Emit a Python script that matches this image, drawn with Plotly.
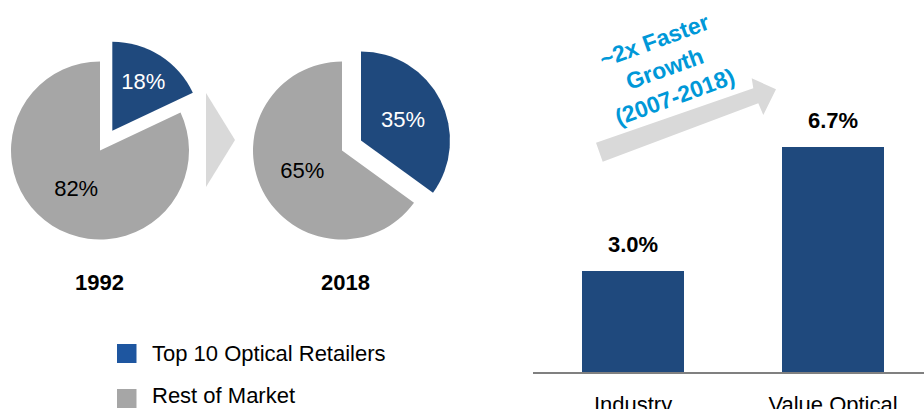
import plotly.graph_objects as go

W, H = 924, 409

# ---- data ----
years = ["1992", "2018"]
segment_labels = ["Top 10 Optical Retailers", "Rest of Market"]
share_top10 = [18, 35]
share_rest = [82, 65]
bar_categories = ["Industry", "Value Optical"]
bar_values = [3.0, 6.7]
growth_note = "~2x Faster<br>Growth<br>(2007-2018)"

# ---- styles ----
BLUE = "#1F497D"
LEG_BLUE = "#1E56A0"
GREY = "#A6A6A6"
LIGHT = "#D9D9D9"
CYAN = "#0098D8"
CLEAR = "rgba(0,0,0,0)"
FONT = "Liberation Sans Narrow, Arial Narrow, Liberation Sans, Arial, sans-serif"
FS = 22


def fx(x):
    return x / W


def fy(y):
    return 1 - y / H


def dom(cx, cy, r):
    return dict(x=[fx(cx - r), fx(cx + r)], y=[fy(cy + r), fy(cy - r)])


pie_centers = [(100, 150.5), (342, 150.5)]
pie_r = 89
blue_offsets = [(12.3, -19.8), (19, -10)]

fig = go.Figure()

for i in range(len(years)):
    cx, cy = pie_centers[i]
    ox, oy = blue_offsets[i]
    vals = [share_top10[i], share_rest[i]]
    # rest-of-market part
    fig.add_trace(go.Pie(
        labels=segment_labels, values=vals, sort=False, direction="clockwise",
        rotation=0, domain=dom(cx, cy, pie_r),
        marker=dict(colors=[CLEAR, GREY], line=dict(width=0)),
        text=["", f"{share_rest[i]}%"], textinfo="text", textposition="inside",
        insidetextorientation="horizontal",
        textfont=dict(family=FONT, size=FS, color="black"),
        showlegend=False, hoverinfo="skip",
    ))
    # exploded top-10 slice
    fig.add_trace(go.Pie(
        labels=segment_labels, values=vals, sort=False, direction="clockwise",
        rotation=0, domain=dom(cx + ox, cy + oy, pie_r),
        marker=dict(colors=[BLUE, CLEAR], line=dict(width=0)),
        text=[f"{share_top10[i]}%", ""], textinfo="text", textposition="inside",
        insidetextorientation="horizontal",
        textfont=dict(family=FONT, size=FS, color="white"),
        showlegend=False, hoverinfo="skip",
    ))

fig.add_trace(go.Bar(
    x=bar_categories, y=bar_values, width=0.51,
    marker=dict(color=BLUE, line=dict(width=0)),
    xaxis="x", yaxis="y", showlegend=False, hoverinfo="skip",
))

annotations = []
for i, yr in enumerate(years):
    annotations.append(dict(
        x=fx([99, 345][i]), y=fy(282), xref="paper", yref="paper",
        text=f"<b>{yr}</b>", showarrow=False, xanchor="center", yanchor="middle",
        font=dict(family=FONT, size=FS, color="black"),
    ))

for c, v in zip(bar_categories, bar_values):
    annotations.append(dict(
        x=c, y=v, xref="x", yref="y", text=f"<b>{v:.1f}%</b>", showarrow=False,
        xanchor="center", yanchor="bottom", yshift=12,
        font=dict(family=FONT, size=FS, color="black"),
    ))

annotations.append(dict(
    x=fx(664), y=fy(69), xref="paper", yref="paper", text=f"<b>{growth_note}</b>",
    showarrow=False, textangle=-20, xanchor="center", yanchor="middle",
    font=dict(family=FONT, size=23, color=CYAN),
))

leg_colors = [LEG_BLUE, GREY]
leg_box_y = [353.5, 398.5]
leg_text_y = [353.5, 395.5]
shapes = []
for lab, col, by, ty in zip(segment_labels, leg_colors, leg_box_y, leg_text_y):
    shapes.append(dict(type="rect", xref="paper", yref="paper",
                       x0=fx(117), x1=fx(136.5), y0=fy(by - 9.5), y1=fy(by + 9.5),
                       fillcolor=col, line=dict(width=0)))
    annotations.append(dict(
        x=fx(150), y=fy(ty), xref="paper", yref="paper", text=lab,
        showarrow=False, xanchor="left", yanchor="middle",
        font=dict(family=FONT, size=FS, color="black"),
    ))

# chevron between the pies
shapes.append(dict(type="path", xref="paper", yref="paper",
                   path=f"M {fx(206)} {fy(93)} L {fx(235)} {fy(140)} L {fx(206)} {fy(187)} Z",
                   fillcolor=LIGHT, line=dict(width=0)))

# growth arrow
arrow_pts = [(596, 142.7), (753.3, 88.3), (751.7, 78.3), (776, 89.3),
             (763.3, 115), (758.3, 103.3), (602.7, 161.7)]
path = "M " + " L ".join(f"{fx(x)} {fy(y)}" for x, y in arrow_pts) + " Z"
shapes.append(dict(type="path", xref="paper", yref="paper", path=path,
                   fillcolor=LIGHT, line=dict(width=0), layer="below"))

fig.update_layout(
    width=W, height=H, margin=dict(l=0, r=0, t=0, b=0, autoexpand=False),
    paper_bgcolor="white", plot_bgcolor="white",
    font=dict(family=FONT, size=FS, color="black"),
    xaxis=dict(domain=[fx(533), 1], range=[-0.5, 1.455], showline=True,
               linecolor="#808080", linewidth=2, showgrid=False, zeroline=False,
               ticks="", ticklabelstandoff=12, automargin=False,
               tickfont=dict(family=FONT, size=FS, color="black"),
               fixedrange=True),
    yaxis=dict(domain=[fy(372), fy(103.2)], range=[0, 8], visible=False,
               automargin=False, showgrid=False, zeroline=False, fixedrange=True),
    annotations=annotations, shapes=shapes, bargap=0,
)

fig.write_html("out.html", config={"displayModeBar": False},
               post_script="document.body.style.margin='0';")
